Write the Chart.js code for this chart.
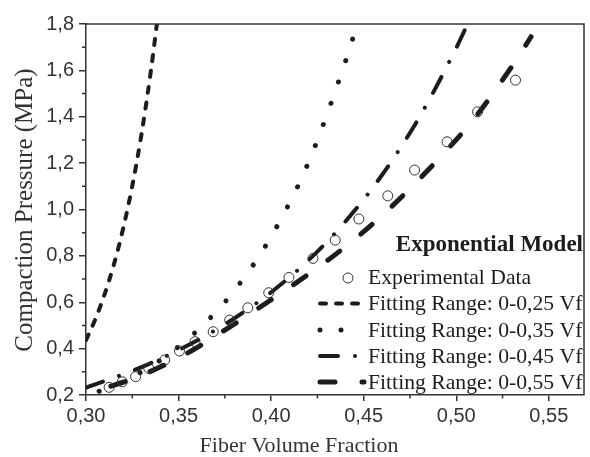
<!DOCTYPE html>
<html><head><meta charset="utf-8">
<script src="https://cdn.jsdelivr.net/npm/chart.js@4/dist/chart.umd.min.js"></script>
<style>html,body{margin:0;padding:0;background:#fff}canvas{display:block}</style>
</head><body>
<canvas id="c" width="590" height="457"></canvas>
<script>
// ---- tick values ----
const xTickValues = [0.30, 0.35, 0.40, 0.45, 0.50, 0.55];
const yTickValues = [0.2, 0.4, 0.6, 0.8, 1.0, 1.2, 1.4, 1.6, 1.8];
const xMinorTicks = [0.325, 0.375, 0.425, 0.475, 0.525];
const yMinorTicks = [0.3, 0.5, 0.7, 0.9, 1.1, 1.3, 1.5, 1.7];

// ---- experimental data ----
const expVf = [0.3125, 0.3196, 0.3268, 0.3339, 0.3425, 0.3505, 0.3589, 0.3687, 0.3776, 0.3874, 0.3987, 0.4096, 0.4226, 0.4346, 0.4474, 0.4630, 0.4775, 0.4950, 0.5115, 0.5320];
const expP  = [0.233, 0.257, 0.279, 0.315, 0.351, 0.390, 0.430, 0.473, 0.523, 0.576, 0.641, 0.707, 0.789, 0.868, 0.959, 1.059, 1.170, 1.292, 1.421, 1.558];

// ---- fitted curves ----
const fit025Vf = [0.300, 0.305, 0.310, 0.315, 0.320, 0.325, 0.330, 0.335, 0.3383];
const fit025P  = [0.437, 0.526, 0.633, 0.761, 0.916, 1.102, 1.326, 1.595, 1.800];

const fit035Vf = [0.300, 0.320, 0.340, 0.360, 0.380, 0.400, 0.420, 0.440, 0.445];
const fit035P  = [0.195, 0.258, 0.350, 0.477, 0.649, 0.883, 1.200, 1.635, 1.760];

const fit045Vf = [0.300, 0.330, 0.360, 0.380, 0.400, 0.420, 0.440, 0.460, 0.480, 0.500, 0.507];
const fit045P  = [0.232, 0.320, 0.435, 0.530, 0.643, 0.780, 0.947, 1.150, 1.397, 1.697, 1.815];

const fit055Vf = [0.300, 0.327, 0.3535, 0.375, 0.398, 0.420, 0.4378, 0.4566, 0.475, 0.493, 0.509, 0.5216, 0.534, 0.5404];
const fit055P  = [0.205, 0.275, 0.375, 0.480, 0.600, 0.720, 0.825, 0.950, 1.090, 1.240, 1.385, 1.520, 1.665, 1.745];

const seriesLabels = ['Experimental Data', 'Fitting Range: 0-0,25 Vf', 'Fitting Range: 0-0,35 Vf', 'Fitting Range: 0-0,45 Vf', 'Fitting Range: 0-0,55 Vf'];
const legendTitle = 'Exponential Model';
const xTitle = 'Fiber Volume Fraction';
const yTitle = 'Compaction Pressure (MPa)';

const zip = (xs, ys) => xs.map((x, i) => ({x: x, y: ys[i]}));
const INK = '#1c1c1c';
const AX = '#333333';

const lineStyles = [
  null,
  {w: 4, dash: [6, 10], off: 0},
  {w: 5, dash: [0.01, 22.5], off: 8.5},
  {w: 4, dash: [18, 17, 0.01, 17], off: 0},
  {w: 5, dash: [15, 27], off: 16}
];

function curve(label, xs, ys, st) {
  return {label: label, data: zip(xs, ys), showLine: true, pointRadius: 0, pointHoverRadius: 0,
    borderColor: INK, backgroundColor: INK, borderWidth: st.w, borderDash: st.dash, borderDashOffset: st.off,
    borderCapStyle: 'round', tension: 0.4, cubicInterpolationMode: 'monotone', fill: false};
}

const fmt = (v, d) => v.toFixed(d).replace('.', ',');

const deco = {
  id: 'deco',
  afterDraw(chart) {
    const {ctx, chartArea: a, scales: {x, y}} = chart;
    ctx.save();
    // frame top/right
    ctx.strokeStyle = AX; ctx.lineWidth = 1.5; ctx.setLineDash([]);
    ctx.beginPath();
    ctx.moveTo(a.left, a.top); ctx.lineTo(a.right, a.top); ctx.lineTo(a.right, a.bottom);
    ctx.stroke();
    // minor ticks
    ctx.beginPath();
    xMinorTicks.forEach(v => { const p = x.getPixelForValue(v); ctx.moveTo(p, a.bottom); ctx.lineTo(p, a.bottom + 3.5); });
    yMinorTicks.forEach(v => { const p = y.getPixelForValue(v); ctx.moveTo(a.left, p); ctx.lineTo(a.left - 4, p); });
    ctx.stroke();
    // axis titles
    ctx.fillStyle = AX;
    ctx.font = '22px "Liberation Serif", "Times New Roman", serif';
    ctx.textAlign = 'center'; ctx.textBaseline = 'alphabetic';
    ctx.fillText(xTitle, 299, 452);
    ctx.save();
    ctx.translate(32, 210); ctx.rotate(-Math.PI / 2);
    ctx.font = '25px "Liberation Serif", "Times New Roman", serif';
    ctx.fillText(yTitle, 0, 0);
    ctx.restore();
    // legend
    ctx.fillStyle = INK;
    ctx.font = 'bold 23px "Liberation Serif", "Times New Roman", serif';
    ctx.textAlign = 'right'; ctx.textBaseline = 'middle';
    ctx.fillText(legendTitle, 583, 245);
    ctx.font = '21.7px "Liberation Serif", "Times New Roman", serif';
    ctx.textAlign = 'left';
    const rows = [277, 303.5, 330, 356, 382];
    rows.forEach((ry, i) => {
      ctx.fillStyle = INK;
      ctx.fillText(seriesLabels[i], 368, ry + 1);
      if (i === 0) {
        ctx.setLineDash([]); ctx.lineWidth = 1; ctx.strokeStyle = AX;
        ctx.beginPath(); ctx.arc(348, ry + 1, 5, 0, Math.PI * 2); ctx.stroke();
      } else {
        const st = lineStyles[i];
        ctx.strokeStyle = INK; ctx.lineWidth = st.w; ctx.lineCap = 'round';
        ctx.setLineDash(i === 2 ? [0.01, 21] : st.dash);
        ctx.lineDashOffset = 0;
        ctx.beginPath(); ctx.moveTo(320, ry); ctx.lineTo(i === 4 ? 364 : 362, ry); ctx.stroke();
      }
    });
    ctx.restore();
  }
};

new Chart(document.getElementById('c'), {
  type: 'scatter',
  data: {
    datasets: [
      {label: seriesLabels[0], data: zip(expVf, expP), showLine: false, pointRadius: 5, pointHoverRadius: 5,
       pointBorderWidth: 1, pointBorderColor: AX, pointBackgroundColor: 'rgba(0,0,0,0)'},
      curve(seriesLabels[1], fit025Vf, fit025P, lineStyles[1]),
      curve(seriesLabels[2], fit035Vf, fit035P, lineStyles[2]),
      curve(seriesLabels[3], fit045Vf, fit045P, lineStyles[3]),
      curve(seriesLabels[4], fit055Vf, fit055P, lineStyles[4])
    ]
  },
  options: {
    responsive: false, animation: false, devicePixelRatio: 1,
    layout: {padding: {top: 24, right: 1.5, left: 0, bottom: 0}},
    plugins: {legend: {display: false}, tooltip: {enabled: false}, title: {display: false}},
    scales: {
      x: {
        type: 'linear', min: 0.30, max: 0.569,
        afterFit: s => { s.height = 62; },
        afterBuildTicks: s => { s.ticks = xTickValues.map(v => ({value: v})); },
        border: {display: true, color: AX, width: 1.5},
        grid: {drawOnChartArea: false, drawTicks: true, tickLength: 6, color: AX, lineWidth: 1.5},
        ticks: {color: AX, padding: 3, maxRotation: 0, autoSkip: false,
          font: {family: '"Liberation Sans", Arial, sans-serif', size: 20},
          callback: v => fmt(v, 2)}
      },
      y: {
        type: 'linear', min: 0.2, max: 1.8,
        afterFit: s => { s.width = 86; },
        afterBuildTicks: s => { s.ticks = yTickValues.map(v => ({value: v})); },
        border: {display: true, color: AX, width: 1.5},
        grid: {drawOnChartArea: false, drawTicks: true, tickLength: 7, color: AX, lineWidth: 1.5},
        ticks: {color: AX, padding: 5, autoSkip: false,
          font: {family: '"Liberation Sans", Arial, sans-serif', size: 20},
          callback: v => fmt(v, 1)}
      }
    }
  },
  plugins: [deco]
});
</script>
</body></html>
